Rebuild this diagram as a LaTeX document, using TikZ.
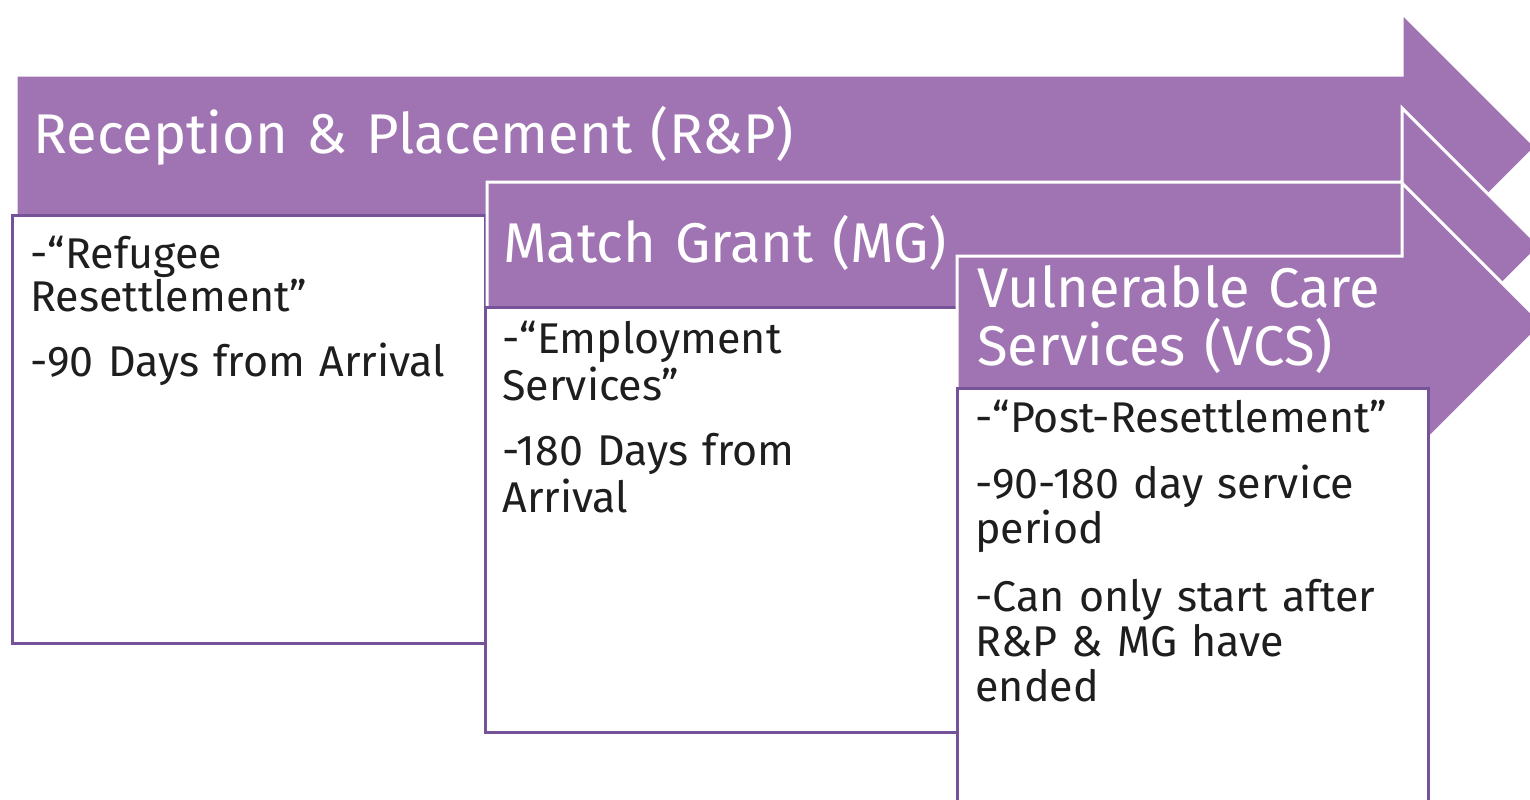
\documentclass[tikz,border=0pt]{standalone}
\usepackage{fontspec}
\setmainfont{Fira Sans}
\definecolor{barfill}{RGB}{160,116,178}
\definecolor{boxedge}{RGB}{118,82,152}
\definecolor{bodytext}{RGB}{30,30,30}
\tikzset{
  bar/.style={fill=barfill, draw=white, line width=1.5pt, line join=miter},
  panel/.style={fill=white, draw=boxedge, line width=1.5pt},
  bartitle/.style={anchor=base west, inner sep=0pt, text=white, text width=420pt, align=left,
    font=\fontsize{28}{29}\selectfont},
  bodytxt/.style={anchor=base west, inner sep=0pt, text width=240pt, align=left, text=bodytext},
}
\begin{document}
\begin{tikzpicture}[x=0.5pt,y=-0.5pt]
\useasboundingbox (0,0) rectangle (1530,799);
\begin{scope}
\clip (0,0) rectangle (1530,799);
% Arrow 1 + box 1
\path[bar] (16,75) -- (1402,75) -- (1402,13) -- (1536,147) -- (1402,281) -- (1402,219) -- (16,219) -- cycle;
\path[panel] (12,215) rectangle (485,643);
% Arrow 2 + box 2
\path[bar] (487,182) -- (1402,182) -- (1402,108) -- (1540,246) -- (1402,384) -- (1402,310) -- (487,310) -- cycle;
\path[panel] (485,307) rectangle (957,732);
% Arrow 3 + box 3
\path[bar] (957,256) -- (1402,256) -- (1402,183) -- (1543,324) -- (1402,465) -- (1402,392) -- (957,392) -- cycle;
\path[panel] (957,388) rectangle (1428,815);
\end{scope}
% titles
\node[bartitle] (t1) at (33,153) {Reception \& Placement (R\&P)};
\node[bartitle] (t2) at (503,262) {Match Grant (MG)};
\node[bartitle] (t3) at (977,307) {Vulnerable Care\\Services (VCS)};
% body texts
\node[bodytxt, font=\fontsize{21.5}{20.5}\selectfont] (b1) at (30,268)
  {-“Refugee\\Resettlement”\\[12pt]-90 Days from Arrival};
\node[bodytxt, font=\fontsize{21.5}{23.5}\selectfont] (b2) at (502,353)
  {-“Employment\\Services”\\[9pt]-180 Days from\\Arrival};
\node[bodytxt, font=\fontsize{21.5}{22.5}\selectfont] (b3) at (975,432)
  {-“Post-Resettlement”\\[10.5pt]-90-180 day service\\period\\[11.5pt]-Can only start after\\R\&P \& MG have\\ended};
\end{tikzpicture}
\end{document}
